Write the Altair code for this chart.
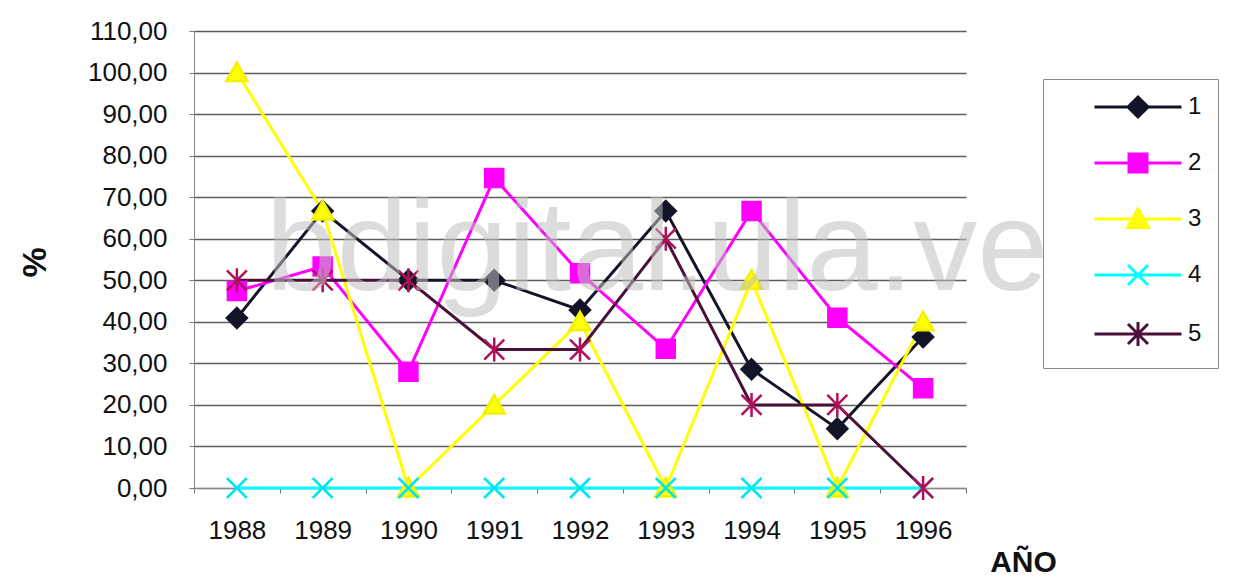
import altair as alt
import pandas as pd

years = ["1988", "1989", "1990", "1991", "1992", "1993", "1994", "1995", "1996"]
series_names = ["1", "2", "3", "4", "5"]
s1 = [40.9, 66.67, 50.0, 50.0, 42.86, 66.67, 28.57, 14.29, 36.36]
s2 = [47.4, 53.3, 28.0, 74.6, 51.7, 33.5, 66.7, 41.0, 24.0]
s3 = [100.0, 66.67, 0.0, 20.0, 40.0, 0.0, 50.0, 0.0, 40.0]
s4 = [0.0, 0.0, 0.0, 0.0, 0.0, 0.0, 0.0, 0.0, 0.0]
s5 = [50.0, 50.0, 50.0, 33.33, 33.33, 60.0, 20.0, 20.0, 0.0]
y_ticks = [0, 10, 20, 30, 40, 50, 60, 70, 80, 90, 100, 110]

rows = []
for name, vals in zip(series_names, [s1, s2, s3, s4, s5]):
    for yr, v in zip(years, vals):
        rows.append({"serie": name, "year": yr, "value": v})
df = pd.DataFrame(rows)

line_colors = ["#141428", "#ff00ff", "#ffff00", "#00ffff", "#4a1038"]
marker_stroke = ["#141428", "#ff00ff", "#f2f200", "#00e5f0", "#b0105a"]
marker_fill = ["#141428", "#ff00ff", "#ffff00", "#00ffff", "#b0105a"]
marker_shapes = [
    "M0,-1L1,0L0,1L-1,0Z",
    "M-0.9,-0.9L0.9,-0.9L0.9,0.9L-0.9,0.9Z",
    "M0,-1L1.05,0.85L-1.05,0.85Z",
    "M-1,-1L1,1M-1,1L1,-1",
    "M-1,-1L1,1M-1,1L1,-1M0,-1.2L0,1.2",
]
legend_shapes = ["M-4.35,0L4.35,0" + s for s in marker_shapes]

FONT = "Liberation Sans"

x_enc = alt.X(
    "year:N",
    sort=years,
    scale=alt.Scale(type="band", paddingInner=0, paddingOuter=0),
    axis=alt.Axis(
        title="AÑO",
        labelAngle=0,
        labelFontSize=26,
        labelFont=FONT,
        labelColor="#111111",
        labelPadding=24,
        tickBand="extent",
        tickSize=5,
        tickColor="#777777",
        domainColor="#888888",
        grid=False,
        titleFont=FONT,
        titleFontSize=30,
        titleFontWeight="bold",
        titleColor="#111111",
        titleX=829,
        titleY=74,
        titleAlign="center",
        titleBaseline="middle",
    ),
)
y_enc = alt.Y(
    "value:Q",
    scale=alt.Scale(domain=[0, 110], nice=False, zero=True),
    axis=alt.Axis(
        title="%",
        values=y_ticks,
        labelExpr="replace(format(datum.value, '.2f'), '.', ',')",
        labelFontSize=26,
        labelFont=FONT,
        labelColor="#111111",
        labelPadding=22,
        tickSize=5,
        tickColor="#777777",
        domainColor="#888888",
        grid=True,
        gridColor="#5e5e5e",
        gridWidth=1.3,
        titleFont=FONT,
        titleFontSize=34,
        titleFontWeight="bold",
        titleColor="#111111",
        titleX=-159,
        titleY=231,
        titleAngle=-90,
        titleAlign="center",
        titleBaseline="middle",
    ),
)

base = alt.Chart(df)

lines = base.mark_line(strokeWidth=3).encode(
    x=x_enc,
    y=y_enc,
    color=alt.Color("serie:N", scale=alt.Scale(domain=series_names, range=line_colors), legend=None),
    order=alt.Order("year:N"),
)

points = base.mark_point(strokeWidth=2.5, opacity=1, size=400).encode(
    x=x_enc,
    y=y_enc,
    shape=alt.Shape("serie:N", scale=alt.Scale(domain=series_names, range=marker_shapes), legend=None),
    fill=alt.Fill("serie:N", scale=alt.Scale(domain=series_names, range=marker_fill), legend=None),
    stroke=alt.Stroke("serie:N", scale=alt.Scale(domain=series_names, range=marker_stroke), legend=None),
)

leg = alt.Legend(labelExpr="datum.label + '\\u00a0\\u00a0\\u00a0\\u00a0\\u00a0\\u00a0'")
legend_layer = base.transform_filter("false").mark_point(strokeWidth=3, size=400, opacity=1).encode(
    x=x_enc,
    y=y_enc,
    shape=alt.Shape("serie:N", scale=alt.Scale(domain=series_names, range=legend_shapes), title=None, legend=leg),
    fill=alt.Fill("serie:N", scale=alt.Scale(domain=series_names, range=marker_fill), title=None, legend=leg),
    stroke=alt.Stroke("serie:N", scale=alt.Scale(domain=series_names, range=line_colors), title=None, legend=leg),
)

wm = alt.Chart(pd.DataFrame({"t": ["bdigital.ula.ve"]})).mark_text(
    font=FONT, fontSize=128, color="#c0c0c0", opacity=0.55, align="center", baseline="alphabetic"
).encode(text="t:N", x=alt.value(463), y=alt.value(259))

chart = (
    alt.layer(lines, points, legend_layer, wm)
    .resolve_scale(shape="independent", fill="independent", stroke="independent", color="independent")
    .resolve_legend(shape="independent", fill="independent", stroke="independent", color="independent")
    .properties(
        width=772,
        height=457,
        autosize=alt.AutoSizeParams(type="none"),
        padding={"left": 186, "top": 23, "right": 267, "bottom": 90},
        background="white",
    )
    .configure_view(stroke=None)
    .configure_legend(
        orient="none",
        legendX=849,
        legendY=48,
        padding=16,
        strokeColor="#8a8a8a",
        fillColor="white",
        labelFont=FONT,
        labelFontSize=24,
        labelColor="#111111",
        labelOffset=38,
        symbolOffset=67,
        rowPadding=25,
        symbolStrokeWidth=3,
        symbolSize=400,
        symbolOpacity=1,
    )
)

chart.save("out.html", embed_options={"renderer": "svg", "actions": False})
